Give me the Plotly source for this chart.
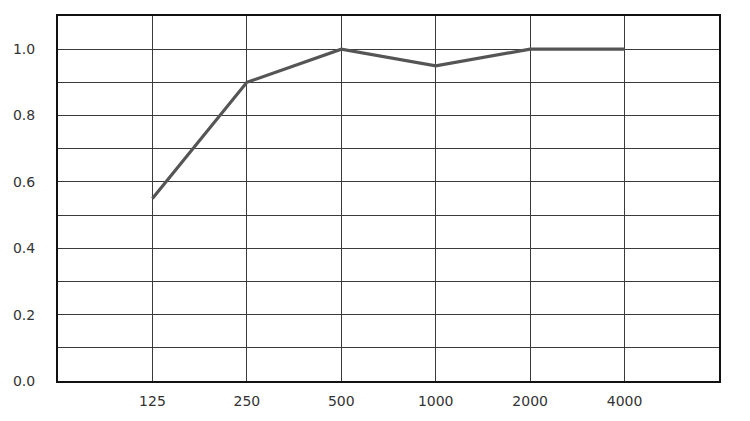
import plotly.graph_objects as go

freqs = ["125", "250", "500", "1000", "2000", "4000"]
alpha = [0.55, 0.9, 1.0, 0.95, 1.0, 1.0]

fig = go.Figure()
fig.add_trace(go.Scatter(x=freqs, y=alpha, mode="lines",
                         line=dict(color="#555555", width=3.2), showlegend=False))

font = dict(family="'DejaVu Sans', sans-serif", size=14, color="#333333")
fig.update_layout(
    width=750, height=421,
    margin=dict(l=58, r=31, t=16, b=36),
    paper_bgcolor="white", plot_bgcolor="white",
    font=font,
    xaxis=dict(type="category", categoryorder="array", categoryarray=freqs,
               range=[-1, 6], showgrid=True, gridcolor="#3a3a3a", gridwidth=1.2,
               showline=True, linecolor="#111111", linewidth=2, mirror=True,
               ticks="", ticklabelstandoff=6, zeroline=False),
    yaxis=dict(range=[0, 1.1], dtick=0.2, tick0=0, tickformat=".1f",
               showgrid=True, gridcolor="#3a3a3a", gridwidth=1.2,
               minor=dict(dtick=0.1, showgrid=True, gridcolor="#3a3a3a", gridwidth=1.2),
               showline=True, linecolor="#111111", linewidth=2, mirror=True,
               ticks="", ticklabelstandoff=18, zeroline=False),
)
post = ("document.body.style.margin='0';document.body.style.overflow='hidden';"
        "var g=document.getElementById('{plot_id}');"
        "g.style.position='fixed';g.style.left='0px';g.style.top='0px';")
fig.write_html("out.html", config={"displayModeBar": False}, post_script=post)
